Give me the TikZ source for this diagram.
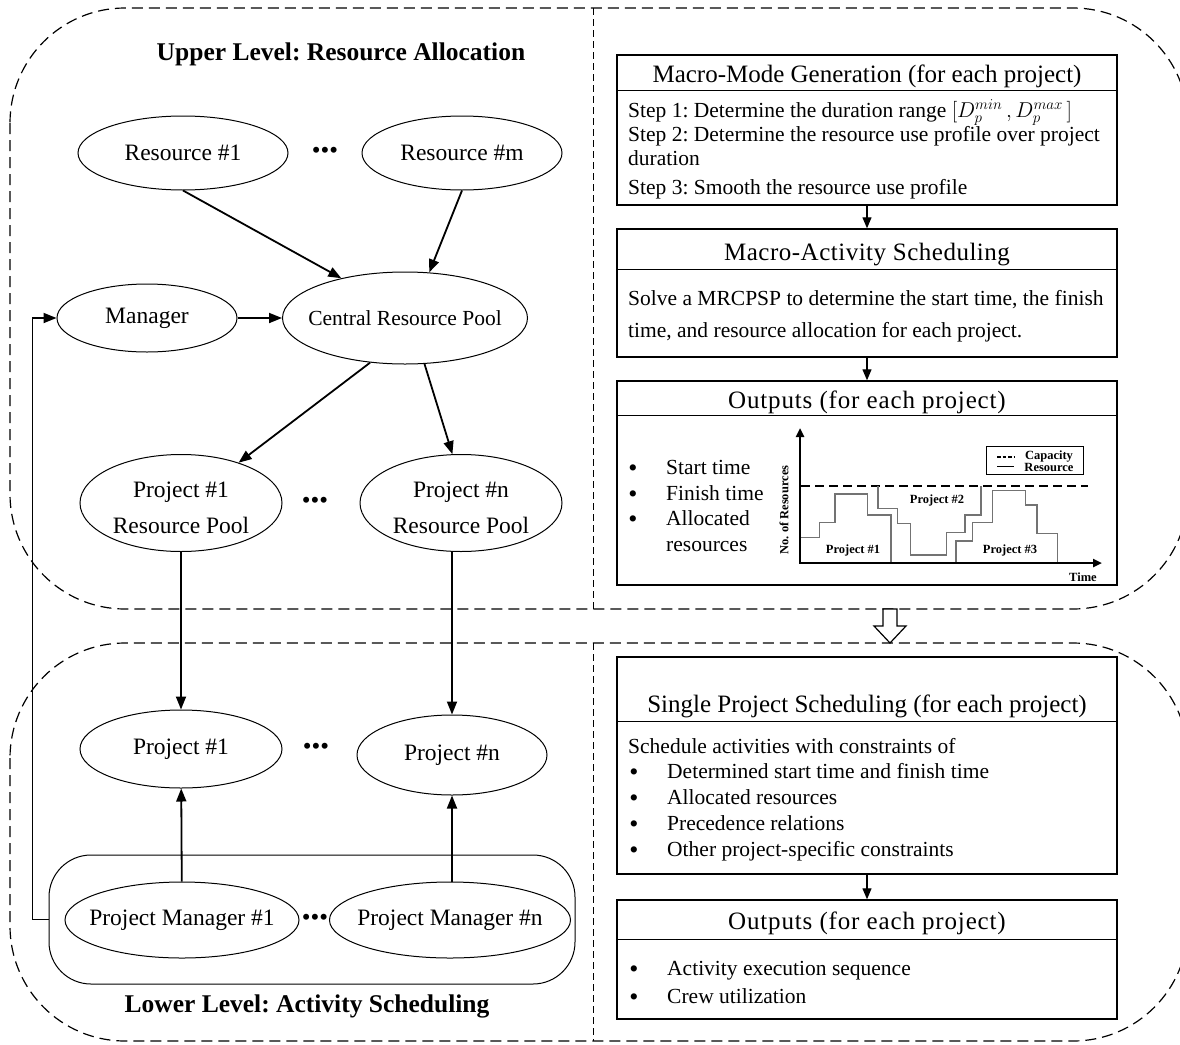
\documentclass[tikz,border=0pt]{standalone}
\usepackage{fix-cm}
\usepackage{fontspec}
\setmainfont{Liberation Serif}
\newfontfamily\wideserif[LetterSpace=3.4]{Liberation Serif}
\usetikzlibrary{shapes.geometric,arrows.meta,calc}

\newcommand\nodetxt{\fontsize{23.5}{28}\selectfont}
\newcommand\smallnodetxt{\fontsize{21.5}{26}\selectfont}
\newcommand\bodytxt{\fontsize{21.5}{26}\selectfont}
\newcommand\headtxt{\fontsize{25}{30}\selectfont}
\newcommand\titletxt{\fontsize{25.5}{30}\bfseries\selectfont}
\newcommand\charttxt{\fontsize{12.5}{10.5}\bfseries\selectfont}
\newcommand\dotstxt{\fontsize{25}{26}\selectfont}
\newcommand\bullettxt{\fontsize{26}{26}\selectfont}
% text of fixed-size ellipses: zero width so the ellipse keeps its given size
\newcommand\zw[1]{\makebox[0pt][c]{#1}}
\newcommand\zwt[2]{\makebox[0pt][c]{\begin{tabular}[t]{@{}c@{}}#1\\[8pt]#2\end{tabular}}}

\begin{document}
\frenchspacing
\begin{tikzpicture}[x=1pt,y=-1pt,
  ell/.style={ellipse, draw, line width=1pt, inner sep=0pt, font=\nodetxt},
  twoline/.style={text height=20pt, text depth=31pt},
  arr/.style={line width=1.8pt, -{Triangle[length=13pt,width=10pt]}},
  flow/.style={line width=1.2pt, -{Triangle[length=11pt,width=9pt]}},
  region/.style={line width=1.2pt, dash pattern=on 11pt off 6pt, rounded corners=115pt},
  divider/.style={line width=1pt, dash pattern=on 7pt off 4pt},
  box/.style={draw, line width=1.4pt, minimum width=500pt, inner sep=0pt},
  hd/.style={anchor=mid, inner sep=0pt, font=\headtxt, yshift=-7pt},
  txt/.style={anchor=mid west, inner sep=0pt, font=\bodytxt, yshift=-5pt},
  bul/.style={anchor=base, inner sep=0pt, font=\bullettxt, text height=8pt, text depth=0pt, yshift=-9.8pt},
  dotsnode/.style={inner sep=0pt, font=\dotstxt},
  title/.style={inner sep=0pt, font=\titletxt},
  chartlbl/.style={inner sep=0pt, font=\charttxt},
  profile/.style={line width=1.3pt, black!55},
]
\useasboundingbox (0,0) rectangle (1180,1044);

% ---------- level regions ----------
\draw[region] (10,8) rectangle (1188,609);
\draw[region] (10,643) rectangle (1188,1041);
\draw[divider] (593,8) -- (593,609);
\draw[divider] (593,643) -- (593,1041);

% transition arrow between the levels
\draw[line width=1.2pt, fill=white] (883,609) -- (897,609) -- (897,626) -- (906,626)
  -- (890,643) -- (874,626) -- (883,626) -- cycle;

% ---------- upper level: resource allocation ----------
\node[title] (uptitle) at (341,54) {Upper Level: Resource Allocation};

\node[ell, minimum width=210pt, minimum height=74pt] (res1) at (183,153) {\zw{Resource \#1}};
\node[dotsnode] (dots1) at (325,153) {•••};
\node[ell, minimum width=200pt, minimum height=74pt] (resm) at (462,153) {\zw{Resource \#m}};

\node[ell, minimum width=180pt, minimum height=68pt] (mgr) at (147,318) {\zw{Manager}};
\node[ell, minimum width=245pt, minimum height=92pt, font=\smallnodetxt] (crp) at (405,318) {\zw{Central Resource Pool}};

\node[ell, twoline, minimum width=202pt, minimum height=97pt] (p1rp) at (181,503) {\zwt{Project \#1}{Resource Pool}};
\node[dotsnode] (dots2) at (315,503) {•••};
\node[ell, twoline, minimum width=202pt, minimum height=97pt] (pnrp) at (461,503) {\zwt{Project \#n}{Resource Pool}};

\draw[arr] (res1.south) -- (crp.148);
\draw[arr] (resm.south) -- (crp.62);
\draw[arr] (mgr) -- (crp);
\draw[arr] (crp.232) -- (p1rp.35);
\draw[arr] (crp.293) -- (pnrp.100);

% ---------- lower level: activity scheduling ----------
\node[ell, minimum width=202pt, minimum height=78pt] (proj1) at (181,749) {\zw{Project \#1}};
\node[dotsnode] (dots3) at (316,749) {•••};
\node[ell, minimum width=190pt, minimum height=80pt] (projn) at (452,755) {\zw{Project \#n}};

\node[draw, line width=1pt, rounded corners=42pt, minimum width=526pt, minimum height=129pt]
  (pmbox) at (312,919.5) {};
\node[ell, minimum width=234pt, minimum height=76pt] (pm1) at (182,920) {\zw{Project Manager \#1}};
\node[dotsnode] (dots4) at (315,920) {•••};
\node[ell, minimum width=241pt, minimum height=76pt] (pmn) at (450,920) {\zw{Project Manager \#n}};

\node[title] (lowtitle) at (307,1006) {Lower Level: Activity Scheduling};

\draw[arr] (p1rp) -- (proj1);
\draw[arr] (pnrp.south -| projn.north) -- (projn.north);
\draw[arr] (pm1) -- (proj1);
\draw[arr] (pmn.north -| projn.south) -- (projn.south);
\draw[arr] (pmbox.west) -- ++(-16,0) |- (mgr.west);

% ---------- macro-mode generation ----------
\node[box, minimum height=150pt] (mmg) at (867,130) {};
\draw[line width=1.4pt] ($(mmg.north west)+(0,36)$) -- ($(mmg.north east)+(0,36)$);
\node[hd] (mmgh) at (867,73) {Macro-Mode Generation (for each project)};
\node[txt] (mmg1) at (628,110) {Step 1: Determine the duration range $[D_p^{min}\,, D_p^{max}\,]$};
\node[txt] (mmg2) at (628,134) {Step 2: Determine the resource use profile over project};
\node[txt] (mmg3) at (628,158) {duration};
\node[txt] (mmg4) at (628,187) {Step 3: Smooth the resource use profile};

% ---------- macro-activity scheduling ----------
\node[box, minimum height=128pt] (mas) at (867,293) {};
\draw[line width=1.4pt] ($(mas.north west)+(0,41)$) -- ($(mas.north east)+(0,41)$);
\node[hd] (mash) at (867,251) {{\addfontfeature{LetterSpace=2}Macro-Activity Scheduling}};
\node[txt] (mas1) at (628,298) {Solve a MRCPSP to determine the start time, the finish};
\node[txt] (mas2) at (628,330) {time, and resource allocation for each project.};

% ---------- outputs of the upper level ----------
\node[box, minimum height=204pt] (out1) at (867,483) {};
\draw[line width=1.4pt] ($(out1.north west)+(0,35)$) -- ($(out1.north east)+(0,35)$);
\node[hd] (out1h) at (867,399) {\wideserif Outputs (for each project)};
\node[bul] (o1b1) at (633,467) {•};
\node[txt] (o1t1) at (666,467) {Start time};
\node[bul] (o1b2) at (633,493) {•};
\node[txt] (o1t2) at (666,493) {Finish time};
\node[bul] (o1b3) at (633,518) {•};
\node[txt] (o1t3) at (666,518) {Allocated};
\node[txt] (o1t4) at (666,544) {resources};

% resource profile chart
\draw[line width=2.6pt, {Triangle[length=9pt,width=8pt]}-{Triangle[length=9pt,width=8pt]}]
  (800,428) -- (800,563) -- (1102,563);
\draw[line width=2.8pt, dash pattern=on 9pt off 5pt] (801,486) -- (1088,486);
\draw[profile] (801,537.7) -- (819.3,537.7) -- (819.3,522.7) -- (835,522.7) -- (835,494)
  -- (867.7,494) -- (867.7,515) -- (891,515) -- (891,562);
\draw[profile] (878,486) -- (878,508.3) -- (897.3,508.3) -- (897.3,523.3) -- (910.7,523.3)
  -- (910.7,555) -- (946.7,555) -- (946.7,532.3) -- (965,532.3) -- (965,515) -- (981,515) -- (981,486);
\draw[profile] (956,562) -- (956,541) -- (972.7,541) -- (972.7,522.7) -- (992.7,522.7)
  -- (992.7,490.7) -- (1025.3,490.7) -- (1025.3,505) -- (1037,505) -- (1037,533.7)
  -- (1057.3,533.7) -- (1057.3,562);
\draw[line width=1pt] (986,446) rectangle (1083,474);
\draw[line width=1.6pt, dash pattern=on 3.5pt off 2pt] (997,457) -- (1014,457);
\draw[line width=1pt] (997,466) -- (1014,466);
\node[chartlbl, align=center] (legend) at (1049,461.5) {Capacity\\Resource};
\node[chartlbl] (lblp1) at (853,550) {Project \#1};
\node[chartlbl] (lblp2) at (937,500) {Project \#2};
\node[chartlbl] (lblp3) at (1010,550) {Project \#3};
\node[chartlbl] (lbltime) at (1083,577) {Time};
\node[chartlbl, rotate=90] (lblres) at (784,510) {No. of Resources};

\draw[flow] (mmg.south) -- (mas.north);
\draw[flow] (mas.south) -- (out1.north);

% ---------- single project scheduling ----------
\node[box, minimum height=217pt] (sps) at (867,765.5) {};
\draw[line width=1.4pt] ($(sps.north west)+(0,65)$) -- ($(sps.north east)+(0,65)$);
\node[hd] (spsh) at (867,703) {Single Project Scheduling (for each project)};
\node[txt] (sps0) at (628,746) {Schedule activities with constraints of};
\node[bul] (spsb1) at (634,771) {•};
\node[txt] (spst1) at (667,771) {Determined start time and finish time};
\node[bul] (spsb2) at (634,797) {•};
\node[txt] (spst2) at (667,797) {Allocated resources};
\node[bul] (spsb3) at (634,823) {•};
\node[txt] (spst3) at (667,823) {Precedence relations};
\node[bul] (spsb4) at (634,849) {•};
\node[txt] (spst4) at (667,849) {Other project-specific constraints};

% ---------- outputs of the lower level ----------
\node[box, minimum height=119pt] (out2) at (867,959.5) {};
\draw[line width=1.4pt] ($(out2.north west)+(0,40)$) -- ($(out2.north east)+(0,40)$);
\node[hd] (out2h) at (867,920) {\wideserif Outputs (for each project)};
\node[bul] (o2b1) at (634,968) {•};
\node[txt] (o2t1) at (667,968) {Activity execution sequence};
\node[bul] (o2b2) at (634,996) {•};
\node[txt] (o2t2) at (667,996) {Crew utilization};

\draw[flow] (sps.south) -- (out2.north);
\end{tikzpicture}
\end{document}
